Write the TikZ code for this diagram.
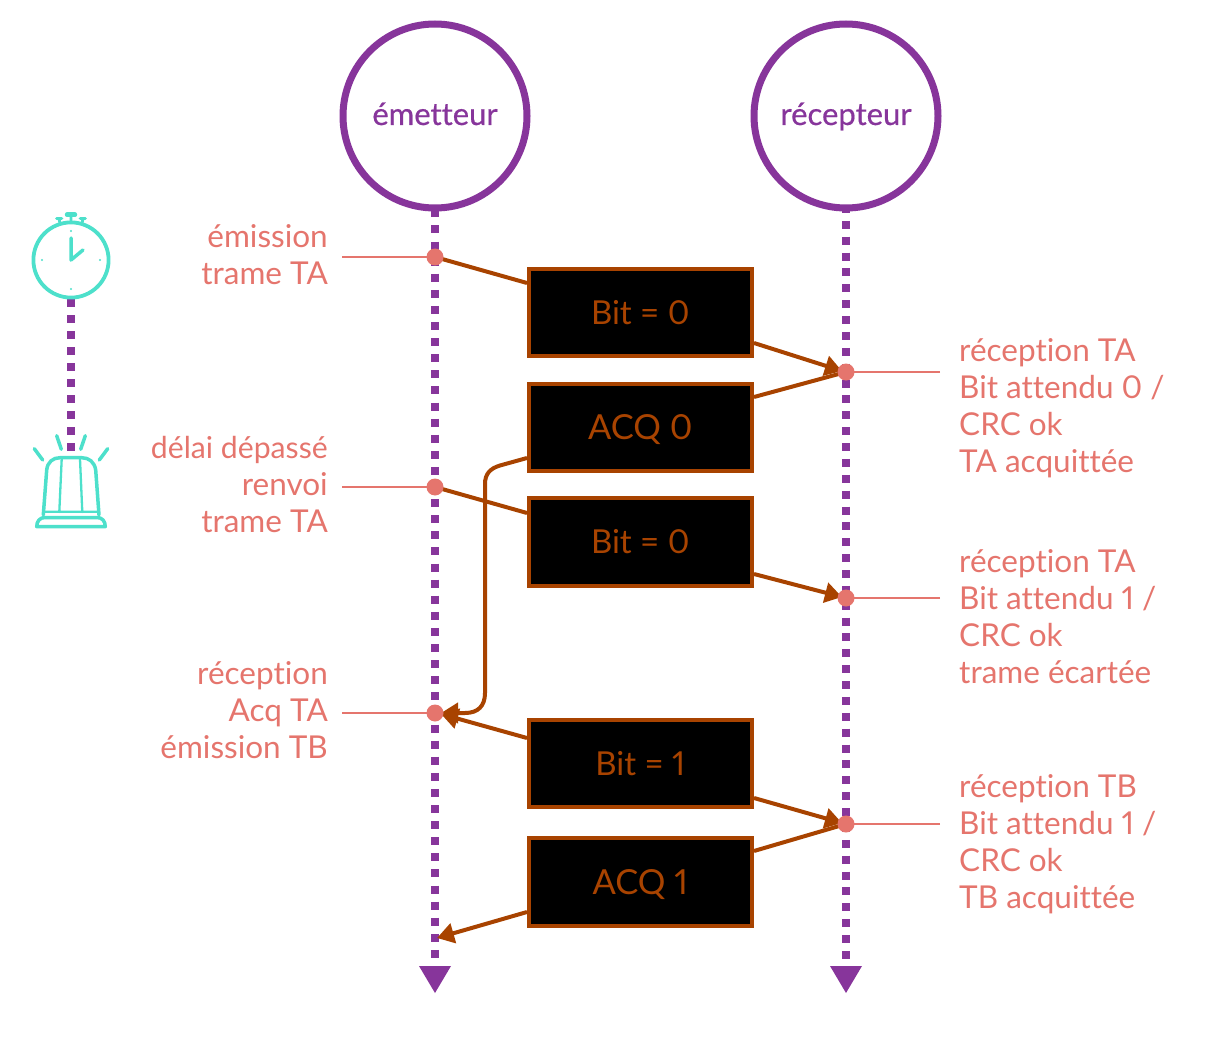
\documentclass[tikz,border=0pt]{standalone}
\usepackage{fontspec}
\setmainfont[Numbers=Proportional,Ligatures=NoCommon]{Lato}
\newfontfamily\medfont[Numbers=Proportional,Ligatures=NoCommon,FakeBold=0.5]{Lato}
\usetikzlibrary{arrows.meta,calc}
\definecolor{purp}{HTML}{87359B}
\definecolor{rust}{HTML}{A84300}
\definecolor{pink}{HTML}{E5756D}
\definecolor{teal2}{HTML}{4DE0CB}
\tikzset{
 x=1pt,y=-1pt,
 actor/.style={circle,draw=purp,line width=7pt,fill=white,minimum size=184pt,inner sep=0pt,text=purp,text height=24pt,text depth=6pt,font=\medfont\fontsize{31}{34}\selectfont},
 life/.style={draw=purp,line width=8pt},
 lifetip/.style={fill=purp,draw=none},
 frame/.style={rectangle,draw=rust,line width=4pt,fill=black,text=rust,inner sep=0pt,minimum width=223.5pt,minimum height=87.5pt,text height=24pt,text depth=0pt,font=\fontsize{33}{38}\selectfont},
 link/.style={draw=rust,line width=4pt},
 linkh/.style={link,-{Triangle[length=17pt,width=20pt]}},
 dot/.style={circle,fill=pink,draw=none,minimum size=17pt,inner sep=0pt},
 lead/.style={draw=pink,line width=1.5pt},
 lab/.style={text=pink,inner sep=0pt,font=\fontsize{31.5}{37}\selectfont},
 labr/.style={lab,align=right,anchor=east},
 labl/.style={lab,align=left,anchor=west},
 ic/.style={draw=teal2,line width=3.5pt,line cap=round,line join=round},
}
\begin{document}
\begin{tikzpicture}
\useasboundingbox (0,0) rectangle (1208,1046);
% lifelines
\coordinate (l0) at (435,209.3); \coordinate (l1) at (435,966);
\coordinate (r0) at (846,205); \coordinate (r1) at (846,966);
\draw[life,dash pattern=on 8pt off 8.1pt] (l0) -- (l1);
\draw[life,dash pattern=on 8pt off 7.87pt] (r0) -- (r1);
\fill[lifetip] (419,966) -- (451,966) -- (435,993) -- cycle;
\fill[lifetip] (830,966) -- (862,966) -- (846,993) -- cycle;
\node[actor] (em) at (435,116) {émetteur};
\node[actor] (re) at (846,116) {récepteur};
% timer line
\coordinate (t0) at (71,299); \coordinate (t1) at (71,452);
\draw[life,dash pattern=on 8pt off 8pt] (t0) -- (t1);
% frames
\node[frame] (b1) at (640.25,312.25) {Bit = 0};
\node[frame,font=\fontsize{34.5}{38}\selectfont] (b2) at (640.25,427.25) {ACQ 0};
\node[frame] (b3) at (640.25,541.75) {Bit = 0};
\node[frame] (b4) at (640.25,763.25) {Bit = 1};
\node[frame,font=\fontsize{34.5}{38}\selectfont] (b5) at (640.25,882) {ACQ 1};
% dots positions
\coordinate (d1c) at (435,257);
\coordinate (d2c) at (846,372);
\coordinate (d3c) at (435,487);
\coordinate (d4c) at (846,598);
\coordinate (d5c) at (435,713);
\coordinate (d6c) at (846,824);
% attachment points
\coordinate (a1w) at (527,283);
\coordinate (a1e) at (754,343);
\coordinate (a2e) at (754,397);
\coordinate (a2w) at (527,458);
\coordinate (a3w) at (527,513);
\coordinate (a3e) at (754,574);
\coordinate (a4w) at (527,738);
\coordinate (a4e) at (754,798);
\coordinate (a5e) at (754,851);
\coordinate (a5w) at (527,912);
\coordinate (t2) at (842,371);
\coordinate (t4) at (842,597);
\coordinate (t5) at (441,714);
\coordinate (t5b) at (441,713);
\coordinate (t6) at (842,823);
\coordinate (t7) at (437,938);
% connectors
\draw[link] (d1c) -- (a1w);
\draw[linkh] (a1e) -- (t2);
\draw[link] (a2e) -- (d2c);
\draw[linkh] (a2w) -- (500,465.5) .. controls (490,468.5) and (485,474) .. (485,484) -- (485,693) .. controls (485,706) and (478,713) .. (465,713) -- (t5b);
\draw[link] (d3c) -- (a3w);
\draw[linkh] (a3e) -- (t4);
\draw[linkh] (a4w) -- (t5);
\draw[linkh] (a4e) -- (t6);
\draw[link] (a5e) -- (d6c);
\draw[linkh] (a5w) -- (t7);
% leaders
\coordinate (q1) at (342,257); \coordinate (q3) at (342,487); \coordinate (q5) at (342,713);
\coordinate (q2) at (940,372); \coordinate (q4) at (940,598); \coordinate (q6) at (940,824);
\draw[lead] (q1) -- (d1c); \draw[lead] (q3) -- (d3c); \draw[lead] (q5) -- (d5c);
\draw[lead] (q2) -- (d2c); \draw[lead] (q4) -- (d4c); \draw[lead] (q6) -- (d6c);
% dots
\node[dot] (d1) at (d1c) {};
\node[dot] (d2) at (d2c) {};
\node[dot] (d3) at (d3c) {};
\node[dot] (d4) at (d4c) {};
\node[dot] (d5) at (d5c) {};
\node[dot] (d6) at (d6c) {};
% labels
\node[labr] (n1) at (328,255) {émission\\trame TA};
\node[labr] (n3) at (328,485) {{\fontsize{30.2}{37}\selectfont délai dépassé}\\renvoi\\trame TA};
\node[labr] (n5) at (328,710.5) {réception\\Acq TA\\émission TB};
\node[labl] (n2) at (959,408) {réception TA\\Bit attendu 0 /\\CRC ok\\TA acquittée};
\node[labl] (n4) at (959,616.5) {réception TA\\Bit attendu 1 /\\CRC ok\\trame écartée};
\node[labl] (n6) at (959,844.5) {réception TB\\Bit attendu 1 /\\CRC ok\\TB acquittée};
% stopwatch
\draw[ic,line width=3.8pt,fill=white] (71,260) circle (37.6);
\draw[ic] (71,238) -- (71,260) -- (83,250);
\fill[teal2] (71,231) circle (1.2) (100,260) circle (1.2) (71,289) circle (1.2) (42,260) circle (1.2);
\draw[ic,line width=4.5pt] (67,214.7) -- (75,214.7);
\draw[ic,line width=3.2pt] (56.6,218.3) -- (61.7,218.3) (80.3,218.3) -- (85.4,218.3);
\draw[ic,line width=2.8pt] (71,215) -- (71,221) (59,219) -- (60,223) (83,219) -- (82,223);
% beacon
\draw[ic] (34.3,448.7) -- (42.7,460) (56.7,435.7) -- (61.3,449.3) (85.3,435.7) -- (80.7,449.3) (107.7,448.7) -- (99.3,460);
\draw[ic] (43.3,515) -- (46.7,470) .. controls (47.5,462) and (53,457.7) .. (60,457.7) -- (81.7,457.7) .. controls (89,457.7) and (94.5,462) .. (95.7,470) -- (99,515);
\draw[ic,line width=2.3pt] (61.7,459) -- (59.3,512) (80,459) -- (82.3,512) (44,511.7) -- (98,511.7);
\draw[ic] (36.7,526.6) .. controls (36.7,521) and (40,517.5) .. (45,517.5) -- (97,517.5) .. controls (102,517.5) and (105.3,521) .. (105.3,526.6) -- cycle;
\end{tikzpicture}
\end{document}
